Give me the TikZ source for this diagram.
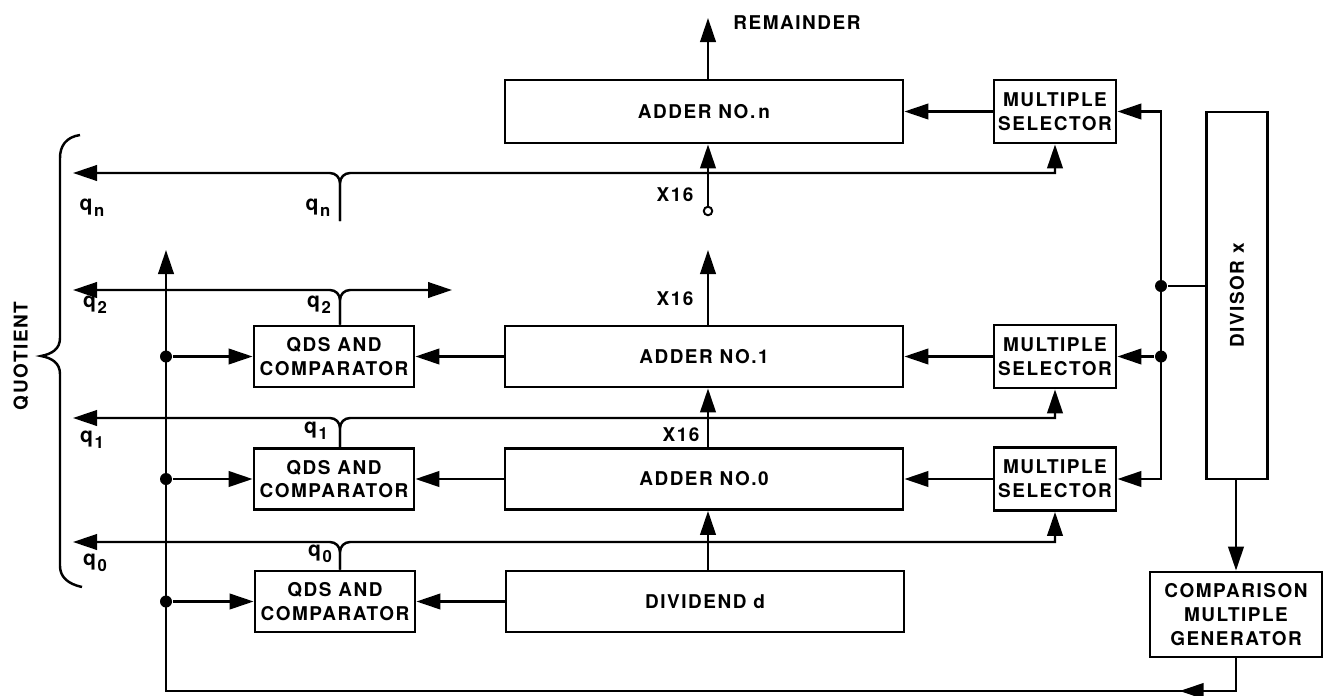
\documentclass[tikz,border=0pt]{standalone}
\usepackage{fontspec}
\setmainfont{TeX Gyre Heros}[LetterSpace=8]
\usetikzlibrary{arrows.meta, decorations.markings}
\newcommand{\qsub}[1]{q\kern1pt\raisebox{-0.55ex}{\fontsize{9.5}{10}\selectfont #1}}
\tikzset{
  blk/.style={draw, line width=1.6pt, minimum height=12.2mm, inner sep=1pt, align=center},
  adder/.style={blk, minimum width=79.6mm},
  qds/.style={blk, minimum width=32mm},
  msel/.style={blk, minimum width=24.4mm, minimum height=12.6mm},
  jdot/.style={circle, fill, inner sep=0pt, minimum size=2.4mm},
  tap/.style={circle, draw, fill=white, line width=1.1pt, inner sep=0pt, minimum size=1.7mm},
  qlbl/.style={font=\bfseries\fontsize{12}{14}\selectfont},
  qcurve/.style={rounded corners=2mm}
}
\begin{document}
\begin{tikzpicture}[x=0.2mm, y=-0.2mm, >={Triangle[length=4.8mm, width=3.1mm]}, line width=1.4pt,
  font=\bfseries\fontsize{10.8}{13.5}\selectfont]
\useasboundingbox (0,0) rectangle (1325,695);
% blocos
\node[adder, minimum height=12.6mm] (addn) at (704,111.5) {ADDER NO.\,n};
\node[adder] (add1) at (704,356.5) {ADDER NO.1};
\node[adder] (add0) at (704,479) {ADDER NO.0};
\node[adder] (divd) at (705,601.5) {DIVIDEND d};
\node[qds] (qds2) at (334,356.5) {QDS AND\\COMPARATOR};
\node[qds] (qds1) at (334,479) {QDS AND\\COMPARATOR};
\node[qds] (qds0) at (335,601.5) {QDS AND\\COMPARATOR};
\node[msel] (seln) at (1055,111.5) {MULTIPLE\\SELECTOR};
\node[msel] (sel1) at (1055,356.5) {MULTIPLE\\SELECTOR};
\node[msel] (sel0) at (1055,479) {MULTIPLE\\SELECTOR};
\node[blk, minimum width=12.2mm, minimum height=73.4mm] (dvsr) at (1237,295.5) {\rotatebox{90}{DIVISOR x}};
\node[blk, minimum width=34.4mm, minimum height=17mm] (cmpg) at (1236,614.5) {COMPARISON\\MULTIPLE\\GENERATOR};
% pontos
\coordinate (rem) at (708,18);
\node[tap] (in16) at (708,211) {};
\coordinate (out1) at (708,250);
\coordinate (bt) at (1161,111.5);
\node[jdot] (bd) at (1161,286) {};
\node[jdot] (b1) at (1161,356.5) {};
\coordinate (fb) at (166,691);
\coordinate (fbt) at (166,250);
\node[jdot] (f2) at (166,356.5) {};
\node[jdot] (f1) at (166,479) {};
\node[jdot] (f0) at (166,601.5) {};
\coordinate (jn) at (340,221);
\coordinate (j2) at (qds2.north -| jn);
\coordinate (j1) at (qds1.north -| jn);
\coordinate (j0) at (qds0.north -| jn);
\coordinate (qnl) at (73,173);
\coordinate (q2l) at (73,290);
\coordinate (q1l) at (73,418);
\coordinate (q0l) at (73,542);
\coordinate (q2r) at (452,290);
% textos
\node (remlbl) at (797,23) {REMAINDER};
\node (x16n) at (675,195) {X16};
\node (x16a) at (675,299) {X16};
\node (x16b) at (681,435) {X16};
\node (quot) at (21,356) {\rotatebox{90}{QUOTIENT}};
\node[qlbl] (qnA) at (92,208) {\qsub{n}};
\node[qlbl] (qnB) at (318,208) {\qsub{n}};
\node[qlbl] (q2A) at (95,305) {\qsub{2}};
\node[qlbl] (q2B) at (319,305) {\qsub{2}};
\node[qlbl] (q1A) at (92,440) {\qsub{1}};
\node[qlbl] (q1B) at (316,431) {\qsub{1}};
\node[qlbl] (q0A) at (95,563) {\qsub{0}};
\node[qlbl] (q0B) at (320,554) {\qsub{0}};
% caminho dos somadores
\draw[->] (addn.north -| rem) -- (rem);
\draw[->] (in16) -- (addn.south -| in16);
\draw[->] (add1.north -| out1) -- (out1);
\draw[->] (add0.north -| out1) -- (add1.south -| out1);
\draw[->] (divd.north -| out1) -- (add0.south -| out1);
\draw[->] (seln) -- (addn);
\draw[->] (sel1) -- (add1);
\draw[->] (sel0) -- (add0);
\draw[->] (add1) -- (qds2);
\draw[->] (add0) -- (qds1);
\draw[->] (divd) -- (qds0);
% divisor
\draw[<->] (sel0.east) -| (bt) -- (seln.east);
\draw[->] (b1) -- (sel1);
\draw (bd) -- (bd -| dvsr.west);
\draw[->] (dvsr.south -| cmpg) -- (cmpg);
\draw[->, postaction={decorate}, decoration={markings, mark=at position 17.8mm with {\arrow{>}}}]
  (cmpg.south) |- (fb) -- (fbt);
\draw[->] (f2) -- (qds2);
\draw[->] (f1) -- (qds1);
\draw[->] (f0) -- (qds0);
% digitos do quociente
\draw[->, qcurve] (jn) |- (qnl);
\draw[<-] (seln.south) -- (seln.south |- qnl) [qcurve] -| (jn);
\draw[->, qcurve] (j2) |- (q2l);
\draw[->, qcurve] (j2) |- (q2r);
\draw[->, qcurve] (j1) |- (q1l);
\draw[<-] (sel1.south) -- (sel1.south |- q1l) [qcurve] -| (j1);
\draw[->, qcurve] (j0) |- (q0l);
\draw[<-] (sel0.south) -- (sel0.south |- q0l) [qcurve] -| (j0);
% chave
\draw (80,135) .. controls (66,137) and (60,146) .. (60,158) -- (60,338)
  .. controls (60,349) and (52,354) .. (41,356) .. controls (52,358) and (60,363) .. (60,374)
  -- (60,566) .. controls (60,577) and (68,584) .. (82,587);
\end{tikzpicture}
\end{document}
